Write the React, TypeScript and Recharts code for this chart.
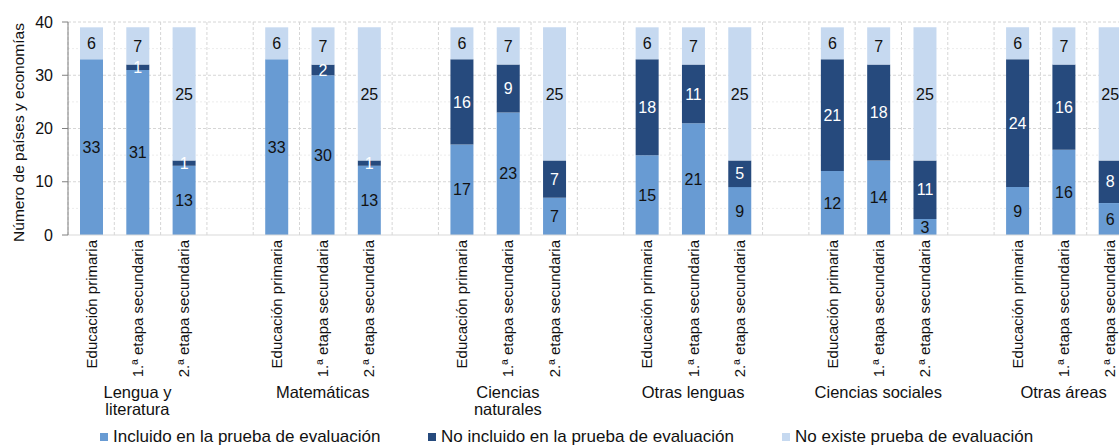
import React from "react";
import {
  BarChart,
  Bar,
  XAxis,
  YAxis,
  CartesianGrid,
  Legend,
  LabelList,
} from "recharts";

// subject groups, each with three school stages
const groups = [
  ["Lengua y", "literatura"],
  ["Matemáticas"],
  ["Ciencias", "naturales"],
  ["Otras lenguas"],
  ["Ciencias sociales"],
  ["Otras áreas"],
];
const levels = ["Educación primaria", "1.ª etapa secundaria", "2.ª etapa secundaria"];

// values per bar, in group order (primaria, 1.ª, 2.ª)
const incluido = [33, 31, 13, 33, 30, 13, 17, 23, 7, 15, 21, 9, 12, 14, 3, 9, 16, 6];
const noIncluido = [0, 1, 1, 0, 2, 1, 16, 9, 7, 18, 11, 5, 21, 18, 11, 24, 16, 8];
const noExiste = [6, 7, 25, 6, 7, 25, 6, 7, 25, 6, 7, 25, 6, 7, 25, 6, 7, 25];

const yTicks = [0, 10, 20, 30, 40];

const seriesNames = [
  "Incluido en la prueba de evaluación",
  "No incluido en la prueba de evaluación",
  "No existe prueba de evaluación",
];
const COLORS = ["#689BD3", "#264A7D", "#C6D9F0"];

interface Row {
  key: string;
  level?: string;
  groupLines?: string[];
  a?: number;
  b?: number;
  c?: number;
}

const rows: Row[] = [];
groups.forEach((g, gi) => {
  levels.forEach((lv, li) => {
    const i = gi * 3 + li;
    rows.push({
      key: `${gi}-${li}`,
      level: lv,
      groupLines: li === 1 ? g : undefined,
      a: incluido[i],
      b: noIncluido[i],
      c: noExiste[i],
    });
  });
  if (gi < groups.length - 1) rows.push({ key: `gap-${gi}` });
});

const FONT = "'Liberation Sans', Arial, sans-serif";
const TXT = "#111";

function XTick(props: any) {
  const { x, y, payload } = props;
  const row = rows.find((r) => r.key === payload.value);
  if (!row || !row.level) return null;
  const ty = y + 5;
  return (
    <g>
      <text
        x={x}
        y={ty}
        transform={`rotate(-90 ${x} ${ty})`}
        textAnchor="end"
        dominantBaseline="central"
        fontSize={15}
        fill={TXT}
      >
        {row.level}
      </text>
      {row.groupLines &&
        row.groupLines.map((line, i) => (
          <text
            key={i}
            x={x}
            y={y + 157 + i * 17}
            textAnchor="middle"
            dominantBaseline="central"
            fontSize={16.5}
            fill={TXT}
          >
            {line}
          </text>
        ))}
    </g>
  );
}

function YLabel(props: any) {
  const vb = props.viewBox || { x: 0, y: 22, height: 213 };
  const cx = vb.x + 18;
  const cy = vb.y + vb.height / 2 + 4;
  return (
    <text
      x={cx}
      y={cy}
      transform={`rotate(-90 ${cx} ${cy})`}
      textAnchor="middle"
      dominantBaseline="central"
      fontSize={15.5}
      fill={TXT}
    >
      Número de países y economías
    </text>
  );
}

function renderLegend() {
  const starts = [100, 428, 782];
  return (
    <div style={{ position: "relative", height: 20, width: 1119, fontSize: 17, color: TXT }}>
      {seriesNames.map((name, i) => (
        <div
          key={name}
          style={{
            position: "absolute",
            left: starts[i],
            top: 0,
            height: 20,
            lineHeight: "20px",
            whiteSpace: "nowrap",
          }}
        >
          <span
            style={{
              display: "inline-block",
              width: 8,
              height: 8,
              background: COLORS[i],
              marginRight: 5,
              verticalAlign: "middle",
              position: "relative",
              top: -1,
            }}
          />
          {name}
        </div>
      ))}
    </div>
  );
}

const hideZero = (v: any) => (v ? v : "");

export default function App() {
  return (
    <div style={{ width: 1119, height: 446, overflow: "hidden", fontFamily: FONT, background: "#fff" }}>
      <style>{"body{margin:0;overflow:hidden}"}</style>
      <BarChart
        width={1133}
        height={446}
        data={rows}
        margin={{ top: 22, right: 0, bottom: 0, left: 0 }}
        barSize={23}
      >
        <CartesianGrid
          horizontalValues={[5, 15, 25, 35]}
          vertical={false}
          stroke="#ececec"
          strokeDasharray="2 2"
        />
        <CartesianGrid
          horizontalValues={[10, 20, 30, 40]}
          verticalCoordinatesGenerator={({ offset }: any) => {
            const n = rows.length;
            const step = offset.width / n;
            return Array.from({ length: n + 1 }, (_, i) => offset.left + i * step);
          }}
          stroke="#d6d6d6"
          strokeDasharray="3 2"
        />
        <XAxis
          dataKey="key"
          interval={0}
          height={191}
          tickSize={0}
          tickMargin={0}
          tickLine={false}
          axisLine={{ stroke: "#d9d9d9" }}
          tick={<XTick />}
        />
        <YAxis
          domain={[0, 40]}
          ticks={yTicks}
          width={68}
          tickSize={6}
          tickMargin={9}
          axisLine={{ stroke: "#808080" }}
          tickLine={{ stroke: "#808080" }}
          tick={{ fontSize: 16, fill: TXT }}
          label={<YLabel />}
        />
        <Legend
          verticalAlign="bottom"
          wrapperStyle={{ top: 427, left: 0 }}
          content={renderLegend}
        />
        <Bar dataKey="a" name={seriesNames[0]} stackId="s" fill={COLORS[0]} isAnimationActive={false}>
          <LabelList dataKey="a" position="center" fill={TXT} fontSize={16} formatter={hideZero} />
        </Bar>
        <Bar dataKey="b" name={seriesNames[1]} stackId="s" fill={COLORS[1]} isAnimationActive={false}>
          <LabelList dataKey="b" position="center" fill="#ffffff" fontSize={16} formatter={hideZero} />
        </Bar>
        <Bar dataKey="c" name={seriesNames[2]} stackId="s" fill={COLORS[2]} isAnimationActive={false}>
          <LabelList dataKey="c" position="center" fill={TXT} fontSize={16} formatter={hideZero} />
        </Bar>
      </BarChart>
    </div>
  );
}
